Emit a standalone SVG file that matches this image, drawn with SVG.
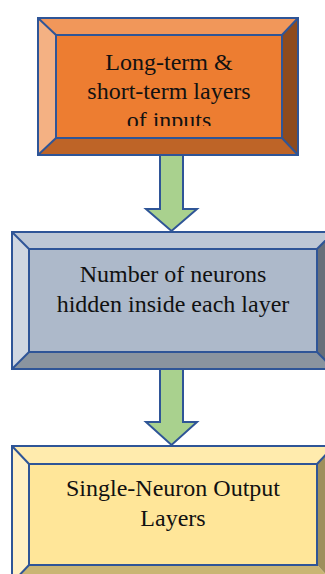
<svg xmlns="http://www.w3.org/2000/svg" width="325" height="574" viewBox="0 0 325 574">
<style>
.edge{stroke:#2F5597;stroke-width:2;stroke-linejoin:miter}
.txt{font-family:"Liberation Serif","Times New Roman",serif;font-size:24px;fill:#111;text-anchor:middle}
.arrow{fill:#A9D18E;stroke:#2F5597;stroke-width:2;stroke-linejoin:miter}
</style>
<defs>
<clipPath id="clip1"><rect x="56" y="36" width="226" height="90"/></clipPath>
</defs>
<rect width="325" height="574" fill="#ffffff"/>
<g id="connectors">
<path class="arrow" d="M160,155 L183,155 L183,209 L197,209 L171.5,231 L146,209 L160,209 Z"/>
<path class="arrow" d="M160,369 L183,369 L183,422 L197,422 L171.5,445 L146,422 L160,422 Z"/>
</g>
<g id="node1">
<polygon points="38,18 298,18 282,35 56,35" fill="#F1975A"/>
<polygon points="38,18 56,35 56,138 38,155" fill="#F4B183"/>
<polygon points="298,18 298,155 282,138 282,35" fill="#8E4B1E"/>
<polygon points="38,155 56,138 282,138 298,155" fill="#BE6427"/>
<rect x="56" y="35" width="226" height="103" fill="#ED7D31"/>
<g class="edge" fill="none">
<rect x="38" y="18" width="260" height="137"/>
<rect x="56" y="35" width="226" height="103"/>
<line x1="38" y1="18" x2="56" y2="35"/>
<line x1="298" y1="18" x2="282" y2="35"/>
<line x1="38" y1="155" x2="56" y2="138"/>
<line x1="298" y1="155" x2="282" y2="138"/>
</g>
<g clip-path="url(#clip1)">
<text class="txt" x="169" y="70">Long-term &amp;</text>
<text class="txt" x="169" y="99">short-term layers</text>
<text class="txt" x="169" y="128">of inputs</text>
</g>
</g>
<g id="node2">
<polygon points="12,232 334,232 317,249 29,249" fill="#BDC7D5"/>
<polygon points="12,232 29,249 29,352 12,369" fill="#D0D7E1"/>
<polygon points="334,232 334,369 317,352 317,249" fill="#676F7A"/>
<polygon points="12,369 29,352 317,352 334,369" fill="#8A949F"/>
<rect x="29" y="249" width="288" height="103" fill="#ADB9CA"/>
<g class="edge" fill="none">
<rect x="12" y="232" width="322" height="137"/>
<rect x="29" y="249" width="288" height="103"/>
<line x1="12" y1="232" x2="29" y2="249"/>
<line x1="334" y1="232" x2="317" y2="249"/>
<line x1="12" y1="369" x2="29" y2="352"/>
<line x1="334" y1="369" x2="317" y2="352"/>
</g>
<text class="txt" x="173" y="282">Number of neurons</text>
<text class="txt" x="173" y="312">hidden inside each layer</text>
</g>
<g id="node3">
<polygon points="12,446 334,446 317,464 29,464" fill="#FFEBAD"/>
<polygon points="12,446 29,464 29,565 12,583" fill="#FFF0C4"/>
<polygon points="334,446 334,583 317,565 317,464" fill="#9E8F5C"/>
<polygon points="12,583 29,565 317,565 334,583" fill="#C9B573"/>
<rect x="29" y="464" width="288" height="101" fill="#FFE699"/>
<g class="edge" fill="none">
<rect x="12" y="446" width="322" height="137"/>
<rect x="29" y="464" width="288" height="101"/>
<line x1="12" y1="446" x2="29" y2="464"/>
<line x1="334" y1="446" x2="317" y2="464"/>
<line x1="12" y1="583" x2="29" y2="565"/>
</g>
<text class="txt" x="173" y="496">Single-Neuron Output</text>
<text class="txt" x="173" y="526">Layers</text>
</g>
</svg>
